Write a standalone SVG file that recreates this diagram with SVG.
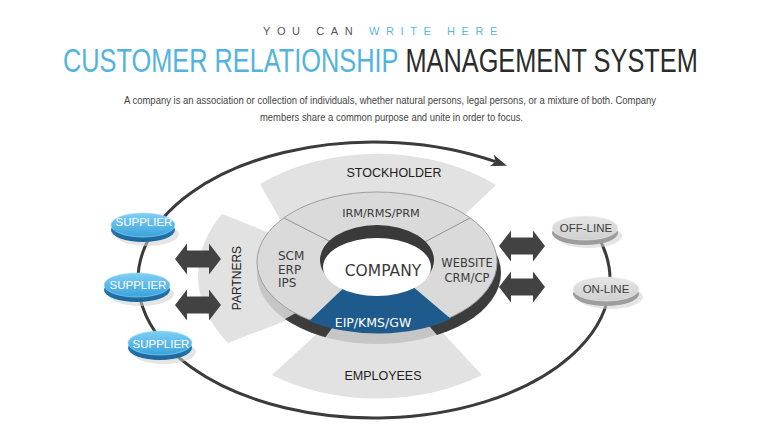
<svg xmlns="http://www.w3.org/2000/svg" width="760" height="428" viewBox="0 0 760 428">
<defs>
<style>
.band{fill:#e2e2e2}
.bl{font-family:"Liberation Sans",Arial,sans-serif;font-size:12.5px;fill:#222;text-anchor:middle}
.dk{font-family:"DejaVu Sans","Open Sans",sans-serif;fill:#3a3a3a}
.sup{font-family:"Liberation Sans",Arial,sans-serif;font-size:11.5px;fill:#fff;text-anchor:middle}
.ln{font-family:"Liberation Sans",Arial,sans-serif;font-size:11.5px;fill:#3c3c3c;text-anchor:middle}
.arrow{fill:#424242}
.loop{fill:none;stroke:#3b3b3b;stroke-width:3}
.shadow{fill:#cfcfcf;opacity:.55}
</style>
<linearGradient id="supTop" x1="0" y1="0" x2="0" y2="1">
<stop offset="0" stop-color="#80d0f4"/><stop offset="1" stop-color="#3aa2db"/>
</linearGradient>
<linearGradient id="supSide" x1="0" y1="0" x2="0" y2="1">
<stop offset="0" stop-color="#2a88c4"/><stop offset="1" stop-color="#1a6699"/>
</linearGradient>
<linearGradient id="grayTop" x1="0" y1="0" x2="0" y2="1">
<stop offset="0" stop-color="#e6e6e6"/><stop offset="1" stop-color="#d0d0d0"/>
</linearGradient>
<marker id="ah" markerWidth="16" markerHeight="12" refX="4" refY="6" orient="auto" markerUnits="userSpaceOnUse">
<path d="M0,0 L16,6 L0,12 L4,6 Z" fill="#3b3b3b"/>
</marker>
<clipPath id="clipR"><polygon points="377,266 700,200 700,510 589,510"/></clipPath>
<clipPath id="clipL"><polygon points="377,266 201,509 117,416"/></clipPath>
</defs>

<rect width="760" height="428" fill="#fff"/>

<g id="header">
<text x="263" y="35" font-family="Liberation Sans, Arial, sans-serif" font-size="11" letter-spacing="6.6"><tspan fill="#555">YOU CAN </tspan><tspan fill="#5bb8e0">WRITE HERE</tspan></text>
<text transform="translate(63 72) scale(0.768 1)" x="0" y="0" font-family="Liberation Sans, Arial, sans-serif" font-size="33"><tspan fill="#52b4de">CUSTOMER RELATIONSHIP</tspan><tspan fill="#2b2b2b"> MANAGEMENT SYSTEM</tspan></text>
<text x="124" y="104" font-family="Liberation Sans, Arial, sans-serif" font-size="10.5" fill="#444" textLength="532" lengthAdjust="spacingAndGlyphs">A company is an association or collection of individuals, whether natural persons, legal persons, or a mixture of both. Company</text>
<text x="260" y="121" font-family="Liberation Sans, Arial, sans-serif" font-size="10.5" fill="#444" textLength="263" lengthAdjust="spacingAndGlyphs">members share a common purpose and unite in order to focus.</text>
</g>

<g id="stockholder">
<path class="band" d="M260,184 A178,122 0 0 1 496,185 L455,224 L286,230 Z"/>
<text class="bl" x="394" y="177">STOCKHOLDER</text>
</g>
<g id="partners">
<path class="band" d="M222,214 A178,122 0 0 0 228,343 L300,315 L292,242 Z"/>
<text class="bl" x="241" y="278" style="font-size:12px" transform="rotate(-90 241 278)">PARTNERS</text>
</g>
<g id="employees">
<path class="band" d="M272,375 A178,122 0 0 0 482,375 L440,330 L321,330 Z"/>
<text class="bl" x="383" y="380">EMPLOYEES</text>
</g>

<g id="connectors">
<path class="loop" d="M595.8,232.8 A236,138 0 1 1 495.6,161.7" marker-end="url(#ah)"/>
<path class="arrow" d="M175,259 L187,243.5 L187,250.5 L209,250.5 L209,243.5 L221,259 L209,274.5 L209,267.5 L187,267.5 L187,274.5 Z"/>
<path class="arrow" d="M175,305 L187,289.5 L187,296.5 L209,296.5 L209,289.5 L221,305 L209,320.5 L209,313.5 L187,313.5 L187,320.5 Z"/>
<path class="arrow" d="M499,246 L511,230.5 L511,237.5 L533,237.5 L533,230.5 L545,246 L533,261.5 L533,254.5 L511,254.5 L511,261.5 Z"/>
<path class="arrow" d="M499,287 L511,271.5 L511,278.5 L533,278.5 L533,271.5 L545,287 L533,302.5 L533,295.5 L511,295.5 L511,302.5 Z"/>
</g>

<g id="company">
<ellipse cx="377" cy="274" rx="120" ry="70" fill="#c6c6c6"/>
<ellipse cx="381" cy="273" rx="120" ry="70" fill="#3c3c3c" clip-path="url(#clipR)"/>
<ellipse cx="377" cy="274" rx="120" ry="70" fill="#3c3c3c" clip-path="url(#clipL)"/>
<ellipse cx="377" cy="262" rx="120" ry="70" fill="#dadada" stroke="#9e9e9e" stroke-width="1"/>
<path d="M352,280 L309,321 A120,70 0 0 0 451,319 L405,280 Z" fill="#1e5b8c"/>
<line x1="284" y1="218" x2="335" y2="244" stroke="#8a8a8a" stroke-width="0.9"/>
<line x1="470" y1="218" x2="421" y2="244" stroke="#8a8a8a" stroke-width="0.9"/>
<ellipse cx="377" cy="260" rx="57" ry="35" fill="#3a3a3a"/>
<ellipse cx="377" cy="267" rx="54" ry="29" fill="#fff"/>
<text class="dk" x="381" y="217" text-anchor="middle" style="font-size:11.3px">IRM/RMS/PRM</text>
<text class="dk" style="font-size:12px"><tspan x="278" y="260">SCM</tspan><tspan x="278" y="273.5">ERP</tspan><tspan x="278" y="287">IPS</tspan></text>
<text class="dk" x="383" y="276" text-anchor="middle" style="font-size:15.5px">COMPANY</text>
<text class="dk" text-anchor="middle" style="font-size:11.5px"><tspan x="467" y="267">WEBSITE</tspan><tspan x="467" y="281.5">CRM/CP</tspan></text>
<text class="dk" x="373" y="327" text-anchor="middle" style="font-size:12.5px;fill:#fff">EIP/KMS/GW</text>
</g>

<g id="supplier1">
<ellipse class="shadow" cx="147" cy="234" rx="32" ry="12"/>
<ellipse cx="143" cy="230" rx="32" ry="12" fill="url(#supSide)"/>
<ellipse cx="143" cy="225" rx="32" ry="12" fill="url(#supTop)" stroke="#9bdcf8" stroke-width="0.6"/>
<text class="sup" x="144" y="226">SUPPLIER</text>
</g>
<g id="supplier2">
<ellipse class="shadow" cx="141" cy="294" rx="33" ry="12"/>
<ellipse cx="137" cy="290" rx="33" ry="12" fill="url(#supSide)"/>
<ellipse cx="137" cy="285" rx="33" ry="12" fill="url(#supTop)" stroke="#9bdcf8" stroke-width="0.6"/>
<text class="sup" x="138" y="289">SUPPLIER</text>
</g>
<g id="supplier3">
<ellipse class="shadow" cx="164" cy="352" rx="32" ry="12"/>
<ellipse cx="160" cy="348" rx="32" ry="12" fill="url(#supSide)"/>
<ellipse cx="160" cy="343" rx="32" ry="12" fill="url(#supTop)" stroke="#9bdcf8" stroke-width="0.6"/>
<text class="sup" x="161" y="347.5">SUPPLIER</text>
</g>

<g id="offline">
<ellipse class="shadow" cx="589" cy="236" rx="33" ry="12"/>
<ellipse cx="585" cy="233" rx="33" ry="12" fill="#9d9d9d"/>
<ellipse cx="585" cy="228" rx="33" ry="12" fill="url(#grayTop)" stroke="#f0f0f0" stroke-width="0.6"/>
<text class="ln" x="586" y="232">OFF-LINE</text>
</g>
<g id="online">
<ellipse class="shadow" cx="610" cy="297" rx="33" ry="12"/>
<ellipse cx="606" cy="294" rx="33" ry="12" fill="#9d9d9d"/>
<ellipse cx="606" cy="289" rx="33" ry="12" fill="url(#grayTop)" stroke="#f0f0f0" stroke-width="0.6"/>
<text class="ln" x="606" y="293">ON-LINE</text>
</g>
</svg>
